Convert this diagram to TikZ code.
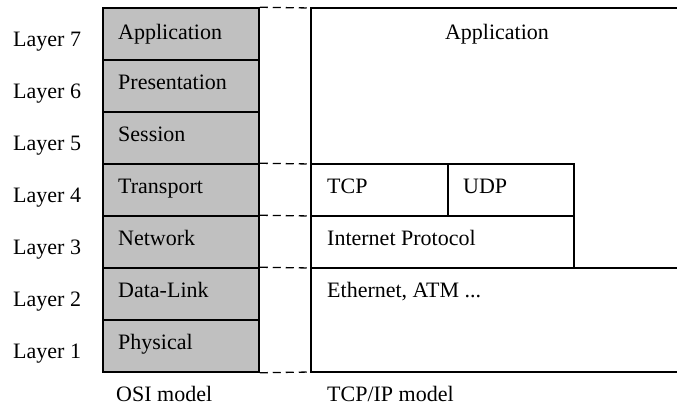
\documentclass[tikz,border=0pt]{standalone}
\usepackage{fontspec}
\setmainfont{Liberation Serif}
\definecolor{cellgray}{HTML}{C0C0C0}
\tikzset{
  lbl/.style={anchor=base west, inner sep=0pt, font=\fontsize{22}{26}\selectfont},
  osicell/.style={draw, fill=cellgray, line width=1.5pt, minimum width=156pt, minimum height=52pt, inner sep=0pt},
  boxline/.style={line width=1.5pt},
  dashline/.style={line width=1.3pt, dash pattern=on 8pt off 5pt}
}
\begin{document}
\begin{tikzpicture}[x=1pt,y=-1pt]
\useasboundingbox (0,0) rectangle (677,405);
% OSI column
\node[osicell] (c7) at (181,34) {};
\node[osicell] (c6) at (181,86) {};
\node[osicell] (c5) at (181,138) {};
\node[osicell] (c4) at (181,190) {};
\node[osicell] (c3) at (181,242) {};
\node[osicell] (c2) at (181,294) {};
\node[osicell] (c1) at (181,346) {};
% OSI texts
\node[lbl] (t7) at (118,39) {Application};
\node[lbl] (t6) at (118,89) {Presentation};
\node[lbl] (t5) at (118,141) {Session};
\node[lbl] (t4) at (118,193) {Transport};
\node[lbl] (t3) at (118,245) {Network};
\node[lbl] (t2) at (118,297) {Data-Link};
\node[lbl] (t1) at (118,349) {Physical};
% layer labels
\node[lbl] (l7) at (13,46) {Layer 7};
\node[lbl] (l6) at (13,98) {Layer 6};
\node[lbl] (l5) at (13,150) {Layer 5};
\node[lbl] (l4) at (13,202) {Layer 4};
\node[lbl] (l3) at (13,254) {Layer 3};
\node[lbl] (l2) at (13,306) {Layer 2};
\node[lbl] (l1) at (13,358) {Layer 1};
% TCP/IP structure
\coordinate (rtl) at (311,8);
\coordinate (rtr) at (677,8);
\coordinate (r4l) at (311,164);
\coordinate (r4r) at (574,164);
\coordinate (r3l) at (311,216);
\coordinate (r3r) at (574,216);
\coordinate (r2l) at (311,268);
\coordinate (r2m) at (574,268);
\coordinate (r2r) at (677,268);
\coordinate (rbl) at (311,372);
\coordinate (rbr) at (677,372);
\coordinate (divt) at (448,164);
\coordinate (divb) at (448,216);
\draw[boxline] (rtr) -- (rtl) -- (rbl) -- (rbr);
\draw[boxline] (r4l) -- (r4r) -- (r2m);
\draw[boxline] (r3l) -- (r3r);
\draw[boxline] (r2l) -- (r2r);
\draw[boxline] (divt) -- (divb);
% dashed correspondences
\draw[dashline] (c7.north east) -- (rtl);
\draw[dashline] (c4.north east) -- (r4l);
\draw[dashline] (c3.north east) -- (r3l);
\draw[dashline] (c2.north east) -- (r2l);
\draw[dashline] (c1.south east) -- (rbl);
% TCP/IP texts
\node[lbl, anchor=base] (tapp) at (497,39) {Application};
\node[lbl] (ttcp) at (327,193) {TCP};
\node[lbl] (tudp) at (463,193) {UDP};
\node[lbl] (tip) at (327,245) {Internet Protocol};
\node[lbl] (teth) at (327,297) {Ethernet, ATM ...};
% captions
\node[lbl] (cosi) at (116,401) {OSI model};
\node[lbl] (ctcp) at (327,401) {TCP/IP model};
\end{tikzpicture}
\end{document}
